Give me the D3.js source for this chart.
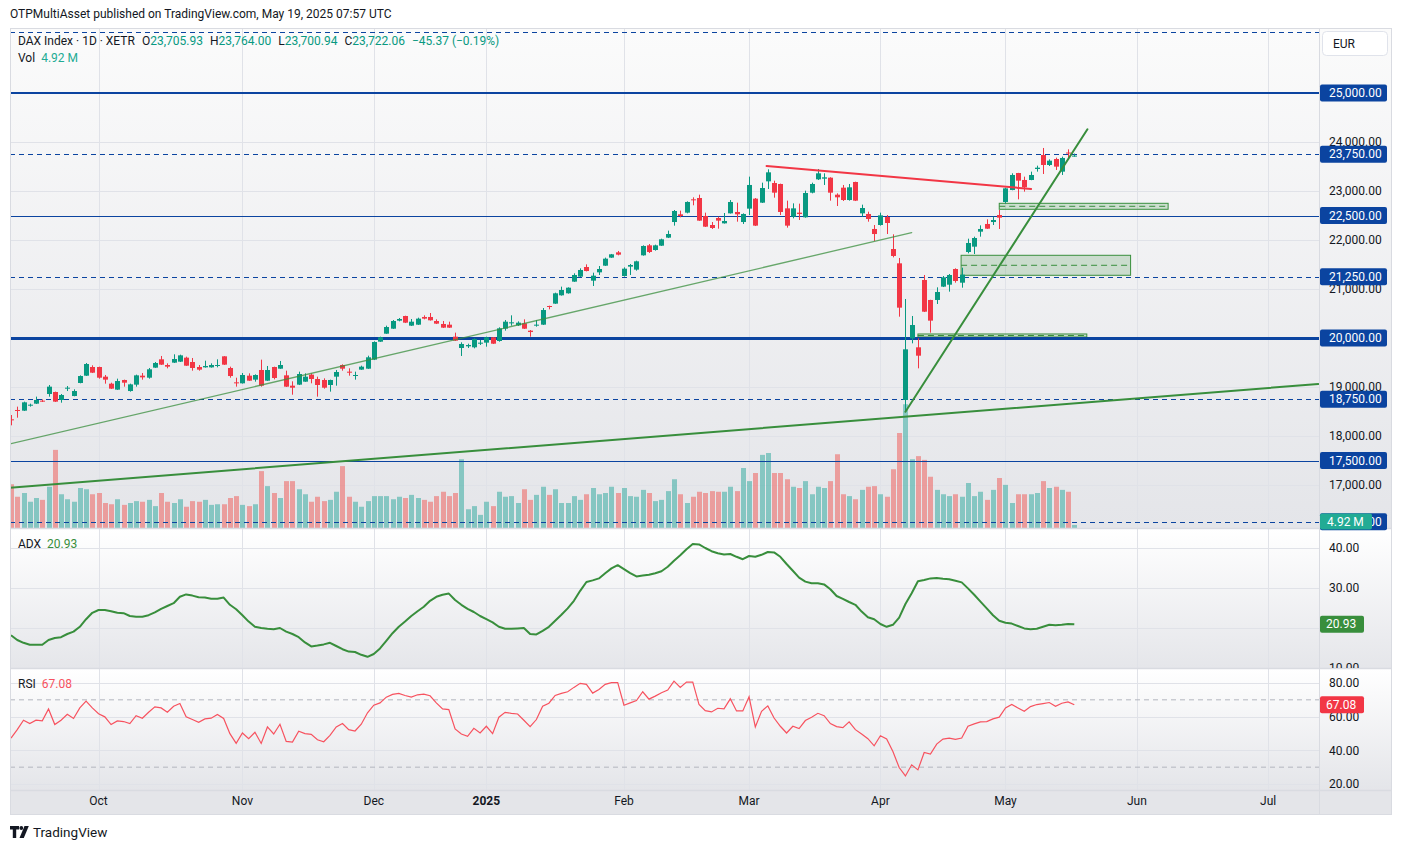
<!DOCTYPE html>
<html><head><meta charset="utf-8">
<script src="https://cdn.jsdelivr.net/npm/d3@7"></script>
<style>
body{margin:0;background:#fff;}
svg{display:block;font-family:Roboto,"Noto Sans",sans-serif;}
</style></head><body>
<svg id="c" width="1402" height="850"></svg>
<script>
// ---------------- DATA (index 0 = 2024-09-11 ... index 170 = 2025-05-19, XETR trading days) ----------------
const opens = [18340,18531,18517,18619,18660,18721,18857,18898,18735,18966,
18816,19082,19231,19408,19408,19211,19068,18946,19143,18918,
19048,19231,19190,19395,19565,19449,19497,19517,19599,19510,
19408,19401,19401,19429,19626,19388,19095,19075,19231,19150,
19347,19129,19408,19374,19238,19027,19048,19109,19252,19163,
19143,19041,19211,19449,19313,19231,19354,19374,19558,19925,
20088,20190,20354,20449,20252,20272,20429,20429,20347,20286,
20272,20027,19796,19830,19810,19884,19905,20014,19939,20190,
20299,20258,20299,20150,20252,20272,20653,20701,20871,20912,
21150,21252,21449,21170,21340,21476,21640,21748,21265,21456,
21395,21687,21891,21796,21884,22048,22367,22524,22558,22830,
22857,22490,22306,22449,22340,22544,22572,22367,22640,22844,
22762,23197,23163,23143,22646,22476,22558,22463,22966,23238,
23252,23272,22925,23068,22816,23184,22544,22531,22225,22306,
22469,21816,21524,18735,19993,19810,21184,20776,20776,21048,
21088,21408,21129,21755,21864,22170,22327,22367,22510,22776,
23020,23367,23225,23225,23449,23735,23531,23653,23395,23785,
23705.93];
const highs = [18428,18599,18701,18660,18803,18748,19041,18905,18857,19020,
18953,19238,19490,19442,19415,19245,19088,19170,19150,19068,
19252,19286,19388,19510,19633,19483,19667,19660,19619,19592,
19449,19537,19483,19565,19630,19415,19190,19286,19279,19258,
19558,19429,19415,19531,19333,19116,19313,19279,19279,19211,
19177,19150,19347,19463,19381,19313,19435,19639,19932,20027,
20252,20367,20408,20455,20388,20415,20463,20510,20381,20347,
20333,20109,19912,19884,19993,19959,20027,20020,20218,20367,
20463,20340,20381,20163,20367,20612,20660,20925,21048,21034,
21320,21422,21503,21333,21469,21640,21715,21776,21442,21510,
21578,21891,21918,21905,22027,22191,22612,22599,22789,22871,
22925,22558,22367,22476,22551,22816,22762,22544,23293,22857,
23170,23442,23211,23150,22803,22748,22742,23007,23170,23449,
23361,23280,22952,23123,23143,23190,22721,22578,22306,22558,
22510,22116,21633,20796,20449,19993,21286,20780,21034,21265,
21306,21422,21435,22027,22068,22299,22422,22476,22612,23068,
23361,23370,23293,23395,23517,23878,23646,23680,23701,23850,
23764.00];
const lows = [18218,18374,18510,18599,18653,18694,18803,18694,18680,18918,
18810,19075,19225,19285,19170,19068,18960,18940,19007,18905,
19007,19150,19170,19390,19450,19381,19490,19510,19430,19333,
19333,19395,19395,19401,19450,19190,19007,19070,19125,19109,
19007,19125,19156,19370,19000,18843,19040,19105,19075,18803,
18966,18905,19027,19333,19231,19150,19350,19370,19550,19920,
20085,20185,20340,20305,20245,20265,20381,20355,20285,20205,
20205,19940,19633,19796,19789,19857,19823,19878,19925,20150,
20252,20245,20185,20027,20231,20265,20585,20695,20865,20905,
21145,21245,21360,21061,21286,21470,21635,21687,21252,21286,
21374,21680,21735,21782,21878,22040,22293,22463,22544,22708,
22390,22265,22225,22231,22335,22540,22374,22327,22510,22285,
22755,23041,22864,22510,22252,22442,22408,22455,22952,23224,
23123,22803,22694,22796,22803,22795,22476,22374,21980,22293,
22122,21646,20435,18490,19891,19381,20530,20109,20694,21040,
20946,21129,21027,21728,21714,22068,22225,22306,22225,22748,
23015,22830,22987,23220,23395,23347,23510,23429,23327,23633,
23700.94];
const closes = [18326,18517,18687,18639,18735,18701,19007,18701,18837,18986,
18918,19224,19469,19292,19190,19150,18966,19122,19088,19054,
19238,19197,19361,19490,19456,19415,19571,19646,19435,19388,
19354,19429,19449,19449,19456,19224,19075,19245,19129,19245,
19027,19347,19184,19449,19007,18986,19265,19211,19163,19041,
18986,19143,19306,19374,19292,19245,19415,19606,19918,20014,
20224,20347,20388,20313,20333,20395,20395,20361,20293,20211,
20211,19946,19878,19857,19980,19905,20014,19884,20197,20333,
20320,20313,20190,20122,20272,20571,20633,20912,20980,21027,
21286,21388,21367,21272,21408,21619,21708,21701,21415,21490,
21565,21878,21755,21891,22014,22122,22592,22490,22776,22810,
22395,22272,22245,22395,22388,22776,22524,22531,23123,22293,
23061,23381,22966,22572,22293,22646,22531,22959,23143,23361,
23279,22966,22871,22816,23075,22803,22653,22429,22122,22503,
22347,21674,20619,19769,20265,19639,20537,20354,20939,21238,
21286,21163,21293,21939,22041,22225,22231,22408,22456,23054,
23327,23211,23075,23327,23476,23531,23619,23497,23674,23767.43,
23722.06];
// volume in millions
const volumes = [70,50,56,42,48,45,66,125,54,46,
42,64,62,54,56,40,38,46,37,40,
43,42,45,35,56,42,40,46,34,43,
42,45,37,38,38,48,51,37,35,38,
91,67,56,48,75,75,62,54,42,50,
43,45,58,99,50,42,34,43,51,51,
51,46,50,48,53,48,45,42,51,58,
51,56,110,30,35,21,42,35,58,50,
51,40,62,45,53,66,53,62,40,40,
51,45,54,64,54,56,66,56,64,51,
50,61,56,43,45,59,78,54,40,50,
58,56,59,58,58,66,59,96,75,88,
117,120,88,88,78,66,64,75,54,66,
64,75,118,54,51,46,61,66,67,54,
50,94,152,198,110,115,109,82,61,54,
51,54,50,72,51,58,45,61,80,69,
40,54,54,54,56,75,64,66,61,58,
4.92];
const adx = [18.2,17.0,16.3,15.8,15.8,15.8,17.0,17.5,17.7,18.5,
19.1,20.3,22.2,23.8,24.5,24.5,24.2,23.8,23.7,23.0,
22.8,22.8,23.2,23.9,24.8,25.5,26.2,27.8,28.4,28.1,
27.7,27.6,27.3,27.3,27.6,25.8,24.7,23.2,21.6,20.3,
20.0,19.8,19.7,20.0,19.1,18.5,17.7,16.4,15.4,15.6,
15.9,16.3,15.5,14.7,14.1,14.0,13.3,12.8,13.5,14.9,
16.8,18.7,20.3,21.6,23.0,24.2,25.3,26.8,27.8,28.3,
28.6,27.0,25.8,24.8,24.0,23.0,22.2,21.4,20.3,19.8,
19.8,19.9,20.0,18.5,18.4,19.3,20.3,21.8,23.3,24.9,
26.8,29.3,31.5,31.9,32.4,33.7,34.9,35.7,34.7,33.7,
32.9,33.1,33.3,33.7,34.2,35.3,36.8,38.2,39.7,41.0,
40.9,40.0,39.2,38.7,38.4,38.5,37.8,37.2,38.0,37.8,
38.3,39.0,38.9,37.8,36.0,34.3,32.6,31.6,31.2,31.2,
30.9,29.7,28.0,27.3,26.5,25.8,24.1,22.7,22.2,21.0,
20.3,20.8,22.6,26.0,28.7,31.7,32.0,32.4,32.5,32.3,
32.2,31.8,31.4,29.9,28.3,26.6,24.9,23.2,21.8,21.3,
21.1,20.5,19.9,19.7,19.8,20.3,20.8,20.7,20.8,21.0,
20.93];
const rsi = [47.3,52.3,57.9,55.9,57.9,57.5,64.6,55.3,57.9,61.4,
58.9,65.2,69.2,65.2,61.7,59.9,55.3,57.5,57.1,55.9,
60.6,59.1,62.6,65.8,65.2,62.6,66.2,67.8,59.9,58.3,
56.7,58.7,59.1,61.3,58.9,49.9,44.1,50.3,46.9,50.7,
44.1,53.9,49.7,55.5,45.3,44.9,51.3,49.9,49.5,46.3,
45.1,48.9,53.9,55.9,52.3,51.5,55.5,62.3,66.8,68.2,
71.6,73.2,73.8,72.6,71.6,73.0,73.4,72.4,68.2,64.6,
64.2,52.7,49.7,48.3,53.1,50.3,54.3,49.9,59.7,62.6,
62.0,61.6,57.9,54.1,58.3,66.2,68.0,72.6,73.8,74.8,
77.4,79.8,79.2,74.0,76.2,79.2,80.2,80.2,66.8,68.2,
69.6,74.8,70.4,72.2,74.2,75.8,81.1,77.4,80.5,80.5,
67.2,63.6,62.8,65.0,64.6,70.6,63.4,63.4,71.8,53.9,
63.2,66.4,59.2,54.3,50.3,54.3,52.9,57.7,59.7,62.0,
60.6,55.9,54.1,53.5,56.9,52.3,49.7,46.9,42.7,48.7,
46.7,39.3,29.8,24.8,31.4,28.4,38.7,37.8,43.7,46.7,
47.3,46.5,47.3,54.3,55.7,56.9,57.1,58.7,59.7,65.2,
67.2,65.2,63.2,66.0,67.2,67.8,68.4,66.2,68.0,68.8,
67.08];

// time axis: label and bar index of first trading day of month (future months on weekday grid)
const monthLabels = ["Oct","Nov","Dec","2025","Feb","Mar","Apr","May","Jun","Jul"];
const monthIdx = [14,37,58,76,98,118,139,159,180,201];

// horizontal price levels drawn on chart
const hLevels = [26250,25000,23750,22500,21250,20000,18750,17500,16250];
const hDashed = [true,false,true,false,true,false,true,false,true];
const hWidth = [1,2,1,1,1,3,1,1,1];
const priceTicks = [17000,18000,19000,20000,21000,22000,23000,24000];

// drawn trend lines: [idx1, price1, idx2, price2]
const trendThin = [-0.2, 17837, 144.0, 22149];
const trendLong = [-0.2, 16945, 209.0, 19061];
const trendSteep = [143.0, 18496, 172.1, 24259];
const trendRed = [120.8, 23510, 163.1, 23041];
// zones: [idx1, idx2, priceTop, priceBottom]
const zones = [[158.0,185.0,22749,22627],[151.9,179.0,21688,21280],[145.0,172.0,20082,20020]];

const adxTicks = [10,20,30,40];
const adxLabels = [10,30,40];
const rsiTicks = [20,40,60,80];

// ---------------- LAYOUT ----------------
const svg = d3.select("#c");
const L = 10, PR = 1319, AR = 1392;
const P = {top:28, bot:528}, A = {top:529, bot:668}, R = {top:669, bot:790}, T = {top:790, bot:815};
const GREEN = "#089981", RED = "#f23645", BLUE = "#0b44a0", TXT = "#131722";
const n = closes.length;

const x = d3.scaleLinear().domain([0, 170]).range([11, 11 + 6.2547*170]);
const y = d3.scaleLinear().domain([20000, 25000]).range([338, 93]);
const yv = d3.scaleLinear().domain([0, 200]).range([528, 403]);
const ya = d3.scaleLinear().domain([10, 40]).range([668, 548]);
const yr = d3.scaleLinear().domain([20, 80]).range([784, 683]);

const defs = svg.append("defs");
function grad(id, c1, c2){
  const g = defs.append("linearGradient").attr("id", id).attr("x1",0).attr("y1",0).attr("x2",0).attr("y2",1);
  g.append("stop").attr("offset","0%").attr("stop-color",c1);
  g.append("stop").attr("offset","100%").attr("stop-color",c2);
}
grad("gP","#fbfbfb","#e4e5e9");
grad("gA","#ffffff","#e5e6ea");
grad("gR","#ffffff","#e4e5e9");
function clip(id, y0, y1){
  defs.append("clipPath").attr("id", id).append("rect").attr("x", L).attr("y", y0).attr("width", PR - L).attr("height", y1 - y0);
}
clip("cP", P.top, P.bot); clip("cA", A.top, A.bot); clip("cR", R.top, R.bot);
defs.append("clipPath").attr("id","cAx").append("rect").attr("x",PR).attr("y",A.top).attr("width",AR-PR).attr("height",A.bot-A.top);
defs.append("clipPath").attr("id","cRx").append("rect").attr("x",PR).attr("y",R.top).attr("width",AR-PR).attr("height",R.bot-R.top);

// backgrounds
svg.append("rect").attr("x",L).attr("y",P.top).attr("width",AR-L).attr("height",P.bot-P.top).attr("fill","url(#gP)");
svg.append("rect").attr("x",L).attr("y",A.top).attr("width",AR-L).attr("height",A.bot-A.top).attr("fill","url(#gA)");
svg.append("rect").attr("x",L).attr("y",R.top).attr("width",AR-L).attr("height",R.bot-R.top).attr("fill","url(#gR)");
svg.append("rect").attr("x",L).attr("y",T.top).attr("width",AR-L).attr("height",T.bot-T.top).attr("fill","#e4e5e9");

// grids
const grid = svg.append("g").attr("stroke","#e0e2e8").attr("stroke-width",1);
monthIdx.forEach(i => {
  const gx = Math.round(x(i)) + 0.5;
  grid.append("line").attr("x1",gx).attr("x2",gx).attr("y1",P.top).attr("y2",R.bot);
});
priceTicks.forEach(p => grid.append("line").attr("x1",L).attr("x2",PR).attr("y1",Math.round(y(p))+0.5).attr("y2",Math.round(y(p))+0.5));
adxTicks.forEach(v => grid.append("line").attr("x1",L).attr("x2",PR).attr("y1",Math.round(ya(v))+0.5).attr("y2",Math.round(ya(v))+0.5));
rsiTicks.forEach(v => grid.append("line").attr("x1",L).attr("x2",PR).attr("y1",Math.round(yr(v))+0.5).attr("y2",Math.round(yr(v))+0.5));

// ---------------- PRICE PANE ----------------
const gp = svg.append("g").attr("clip-path","url(#cP)");
// volume
const idx = d3.range(n);
gp.append("g").selectAll("rect").data(idx).join("rect")
  .attr("x", i => Math.round(x(i)) - 2).attr("width", 5)
  .attr("y", i => yv(volumes[i])).attr("height", i => yv(0) - yv(volumes[i]))
  .attr("fill", i => closes[i] >= opens[i] ? "rgba(38,166,154,0.5)" : "rgba(239,83,80,0.5)");

// zones
zones.forEach(z => {
  const zx1 = x(z[0]), zx2 = x(z[1]), zy1 = y(z[2]), zy2 = y(z[3]);
  gp.append("rect").attr("x",zx1).attr("y",zy1).attr("width",zx2-zx1).attr("height",zy2-zy1)
    .attr("fill","rgba(56,142,60,0.2)").attr("stroke","#388e3c").attr("stroke-width",1);
  const my = (zy1+zy2)/2;
  gp.append("line").attr("x1",zx1).attr("x2",zx2).attr("y1",my).attr("y2",my)
    .attr("stroke","#388e3c").attr("stroke-width",1).attr("stroke-dasharray","6,4");
});

// horizontal levels
hLevels.forEach((p,k) => {
  const ly = Math.round(y(p)) + (hWidth[k] % 2 ? 0.5 : 0);
  gp.append("line").attr("x1",L).attr("x2",PR).attr("y1",ly).attr("y2",ly)
    .attr("stroke",BLUE).attr("stroke-width",hWidth[k])
    .attr("stroke-dasharray", hDashed[k] ? "5,4" : null);
});

// candles
const cg = gp.append("g");
idx.forEach(i => {
  const cx = Math.round(x(i));
  const up = closes[i] >= opens[i];
  const col = up ? GREEN : RED;
  cg.append("line").attr("x1",cx+0.5).attr("x2",cx+0.5).attr("y1",y(highs[i])).attr("y2",y(lows[i])).attr("stroke",col).attr("stroke-width",1);
  const t = y(Math.max(opens[i],closes[i])), b = y(Math.min(opens[i],closes[i]));
  cg.append("rect").attr("x",cx-2).attr("width",5).attr("y",t).attr("height",Math.max(1,b-t)).attr("fill",col);
});

// trend lines
function tl(a, col, w, op){
  gp.append("line").attr("x1",x(a[0])).attr("y1",y(a[1])).attr("x2",x(a[2])).attr("y2",y(a[3]))
    .attr("stroke",col).attr("stroke-width",w).attr("stroke-opacity",op).attr("stroke-linecap","round");
}
tl(trendThin,"#388e3c",1.3,0.75);
tl(trendLong,"#388e3c",2,1);
tl(trendSteep,"#388e3c",2,1);
tl(trendRed,"#f23645",2,1);

// ---------------- ADX PANE ----------------
const ga = svg.append("g").attr("clip-path","url(#cA)");
ga.append("path").datum(idx).attr("fill","none").attr("stroke","#388e3c").attr("stroke-width",2)
  .attr("stroke-linejoin","round")
  .attr("d", d3.line().x(i => x(i)).y(i => ya(adx[i])));

// ---------------- RSI PANE ----------------
const gr = svg.append("g").attr("clip-path","url(#cR)");
[70,30].forEach(v => gr.append("line").attr("x1",L).attr("x2",PR).attr("y1",yr(v)).attr("y2",yr(v))
  .attr("stroke","#b2b5be").attr("stroke-width",1).attr("stroke-dasharray","5,4"));
gr.append("path").datum(idx).attr("fill","none").attr("stroke","#f7525f").attr("stroke-width",1.2)
  .attr("d", d3.line().x(i => x(i)).y(i => yr(rsi[i])));

// ---------------- FRAME ----------------
const fr = svg.append("g").attr("stroke","#d9dbe1").attr("fill","none");
fr.append("rect").attr("x",L+0.5).attr("y",P.top+0.5).attr("width",AR-L-1).attr("height",T.bot-P.top-1);
fr.append("line").attr("x1",PR+0.5).attr("x2",PR+0.5).attr("y1",P.top).attr("y2",T.bot);
[P.bot, A.bot, R.bot].forEach(v => fr.append("line").attr("x1",L).attr("x2",AR).attr("y1",v+0.5).attr("y2",v+0.5).attr("stroke-width",1.5));

// ---------------- AXES ----------------
const ax = svg.append("g").attr("font-size",12).attr("fill",TXT);
// price ticks
priceTicks.forEach(p => ax.append("text").attr("x",1329).attr("y",y(p)).attr("dy","0.35em").text(d3.format(",.2f")(p)));
// level labels
hLevels.forEach(p => {
  if (p > 25500) return;
  const ly = y(p);
  ax.append("rect").attr("x",PR+1).attr("y",ly-8.5).attr("width",67).attr("height",17).attr("rx",2).attr("fill",BLUE);
  ax.append("text").attr("x",1329).attr("y",ly).attr("dy","0.35em").attr("fill","#fff").text(d3.format(",.2f")(p));
});
// volume last label
ax.append("rect").attr("x",PR+1).attr("y",yv(0)-14.5).attr("width",52).attr("height",16).attr("rx",2).attr("fill","#22ab94");
ax.append("text").attr("x",1327).attr("y",yv(0)-6.5).attr("dy","0.35em").attr("fill","#fff").text(volumes[n-1].toFixed(2) + " M");
// EUR box
ax.append("rect").attr("x",1322.5).attr("y",31.5).attr("width",65).attr("height",24).attr("rx",4).attr("fill","#fff").attr("stroke","#e0e3eb");
ax.append("text").attr("x",1333).attr("y",44).attr("dy","0.35em").text("EUR");

// ADX axis
const axA = ax.append("g").attr("clip-path","url(#cAx)");
adxLabels.forEach(v => axA.append("text").attr("x",1329).attr("y",ya(v)).attr("dy","0.35em").text(v.toFixed(2)));
const lastA = adx[n-1];
axA.append("rect").attr("x",PR+1).attr("y",ya(lastA)-8.5).attr("width",44).attr("height",17).attr("rx",2).attr("fill","#388e3c");
axA.append("text").attr("x",1326).attr("y",ya(lastA)).attr("dy","0.35em").attr("fill","#fff").text(lastA.toFixed(2));

// RSI axis
const axR = ax.append("g").attr("clip-path","url(#cRx)");
rsiTicks.forEach(v => axR.append("text").attr("x",1329).attr("y",yr(v)).attr("dy","0.35em").text(v.toFixed(2)));
const lastR = rsi[n-1];
axR.append("rect").attr("x",PR+1).attr("y",yr(lastR)-8.5).attr("width",44).attr("height",17).attr("rx",2).attr("fill","#f23645");
axR.append("text").attr("x",1326).attr("y",yr(lastR)).attr("dy","0.35em").attr("fill","#fff").text(lastR.toFixed(2));

// time axis
monthLabels.forEach((m,k) => ax.append("text").attr("x",x(monthIdx[k])).attr("y",801).attr("dy","0.35em")
  .attr("text-anchor","middle").attr("font-weight", m === "2025" ? "bold" : null).text(m));

// ---------------- TEXTS ----------------
svg.append("text").attr("x",10).attr("y",14).attr("dy","0.35em").attr("font-size",12).attr("fill",TXT)
  .text("OTPMultiAsset published on TradingView.com, May 19, 2025 07:57 UTC");

const f2 = d3.format(",.2f");
const last = n - 1;
const chg = closes[last] - closes[last-1];
const legCol = closes[last] >= opens[last] ? GREEN : RED;
const lg = svg.append("text").attr("x",18).attr("y",41).attr("dy","0.35em").attr("font-size",12).attr("fill",TXT);
lg.append("tspan").text("DAX Index · 1D · XETR");
[["O",opens[last]],["H",highs[last]],["L",lows[last]],["C",closes[last]]].forEach(d => {
  lg.append("tspan").attr("dx",7).text(d[0]);
  lg.append("tspan").attr("fill",legCol).text(f2(d[1]));
});
lg.append("tspan").attr("dx",7).attr("fill",legCol)
  .text("\u2212" + Math.abs(chg).toFixed(2) + " (\u2212" + Math.abs(chg/closes[last-1]*100).toFixed(2) + "%)");
const vg = svg.append("text").attr("x",18).attr("y",58).attr("dy","0.35em").attr("font-size",12).attr("fill",TXT);
vg.append("tspan").text("Vol");
vg.append("tspan").attr("dx",6).attr("fill","#22ab94").text(volumes[last].toFixed(2) + " M");

const ag = svg.append("text").attr("x",18).attr("y",544).attr("dy","0.35em").attr("font-size",12).attr("fill",TXT);
ag.append("tspan").text("ADX");
ag.append("tspan").attr("dx",6).attr("fill","#388e3c").text(lastA.toFixed(2));
const rg = svg.append("text").attr("x",18).attr("y",684).attr("dy","0.35em").attr("font-size",12).attr("fill",TXT);
rg.append("tspan").text("RSI");
rg.append("tspan").attr("dx",6).attr("fill","#f7525f").text(lastR.toFixed(2));

// TradingView logo
const logo = svg.append("g").attr("fill",TXT);
logo.append("path").attr("d","M10 826 h9 v3.6 h-2.8 v8.4 h-3.4 v-8.4 h-2.8 z");
logo.append("circle").attr("cx",21.3).attr("cy",828).attr("r",1.9);
logo.append("path").attr("d","M24.5 826 h4.3 l-5 12 h-4.3 z");
svg.append("text").attr("x",33).attr("y",832).attr("dy","0.35em").attr("font-size",13.5).attr("fill",TXT).text("TradingView");
</script></body></html>
